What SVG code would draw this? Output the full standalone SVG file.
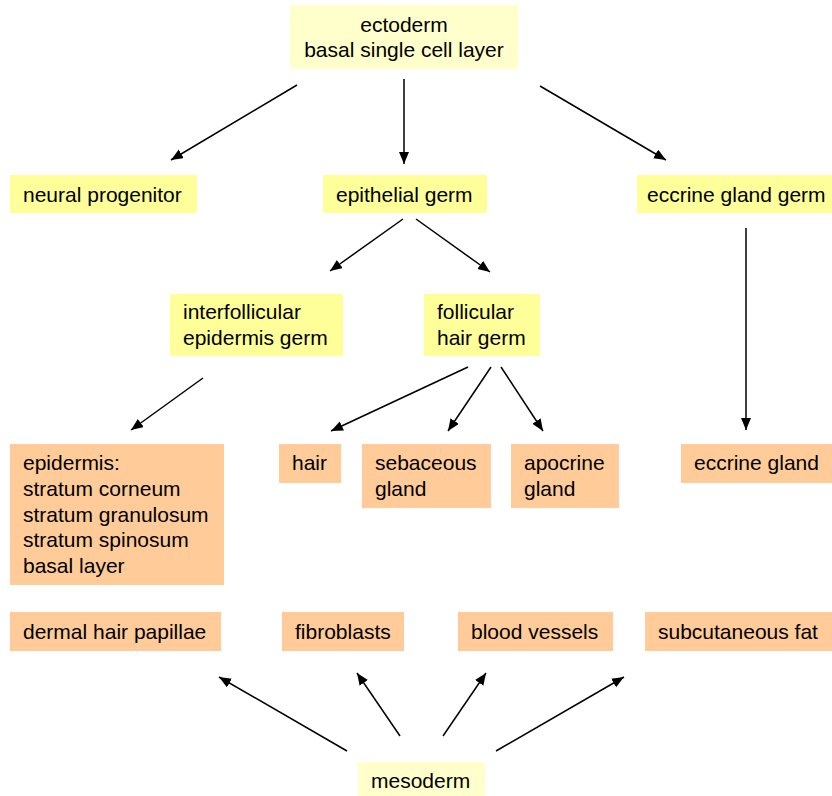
<svg xmlns="http://www.w3.org/2000/svg" width="832" height="796" viewBox="0 0 832 796">
<defs>
<style>
text{font-family:"Liberation Sans",Arial,sans-serif;font-size:21px;fill:#000}
.pale{fill:#FFFFCC}
.yel{fill:#FFFF99}
.org{fill:#FFCC99}
.c{text-anchor:middle}
.ln{stroke:#000;stroke-width:1.5;fill:none;marker-end:url(#ah)}
</style>
<marker id="ah" markerUnits="userSpaceOnUse" markerWidth="14" markerHeight="12" refX="12" refY="5" orient="auto">
<path d="M0,0 L12,5 L0,10 z" fill="#000"/>
</marker>
</defs>
<rect width="832" height="796" fill="#fff"/>
<g id="ectoderm"><rect class="pale" x="290" y="5" width="228" height="64"/><text class="c" x="404" y="32">ectoderm</text><text class="c" x="404" y="57">basal single cell layer</text></g>
<g id="neural"><rect class="yel" x="10" y="175" width="187" height="38"/><text x="23" y="202">neural progenitor</text></g>
<g id="epithelial"><rect class="yel" x="323" y="175" width="164" height="38"/><text x="336" y="202">epithelial germ</text></g>
<g id="eccrinegerm"><rect class="yel" x="637" y="175" width="195" height="38"/><text x="647" y="202">eccrine gland germ</text></g>
<g id="interfollicular"><rect class="yel" x="170" y="294" width="173" height="62"/><text x="183" y="319">interfollicular</text><text x="183" y="345">epidermis germ</text></g>
<g id="follicular"><rect class="yel" x="424" y="294" width="116" height="62"/><text x="437" y="319">follicular</text><text x="437" y="345">hair germ</text></g>
<g id="epidermis"><rect class="org" x="10" y="444" width="214" height="141"/><text x="23" y="470">epidermis:</text><text x="23" y="496">stratum corneum</text><text x="23" y="522">stratum granulosum</text><text x="23" y="547">stratum spinosum</text><text x="23" y="573">basal layer</text></g>
<g id="hair"><rect class="org" x="279" y="444" width="62" height="39"/><text x="292" y="470">hair</text></g>
<g id="sebaceous"><rect class="org" x="362" y="444" width="129" height="64"/><text x="375" y="470">sebaceous</text><text x="375" y="496">gland</text></g>
<g id="apocrine"><rect class="org" x="511" y="444" width="108" height="64"/><text x="524" y="470">apocrine</text><text x="524" y="496">gland</text></g>
<g id="eccrine"><rect class="org" x="681" y="444" width="151" height="39"/><text x="694" y="470">eccrine gland</text></g>
<g id="papillae"><rect class="org" x="10" y="612" width="211" height="39"/><text x="23" y="639">dermal hair papillae</text></g>
<g id="fibroblasts"><rect class="org" x="282" y="612" width="122" height="39"/><text x="295" y="639">fibroblasts</text></g>
<g id="vessels"><rect class="org" x="458" y="612" width="155" height="39"/><text x="471" y="639">blood vessels</text></g>
<g id="fat"><rect class="org" x="645" y="612" width="187" height="39"/><text x="658" y="639">subcutaneous fat</text></g>
<g id="mesoderm"><rect class="pale" x="358" y="762" width="127" height="40"/><text x="371" y="788">mesoderm</text></g>
<g id="connectors">
<path class="ln" d="M297,85 L171,160"/>
<path class="ln" d="M404,79 L404,164"/>
<path class="ln" d="M540,86 L666,160"/>
<path class="ln" d="M403,219 L330,271"/>
<path class="ln" d="M416,219 L490,272"/>
<path class="ln" d="M203,378 L131,430"/>
<path class="ln" d="M468,367 L331,431"/>
<path class="ln" d="M491,367 L448,431"/>
<path class="ln" d="M501,367 L543,431"/>
<path class="ln" d="M746,228 L746,430"/>
<path class="ln" d="M347,751 L219,677"/>
<path class="ln" d="M400,736 L357,673"/>
<path class="ln" d="M443,736 L486,673"/>
<path class="ln" d="M496,751 L624,677"/>
</g>
</svg>
